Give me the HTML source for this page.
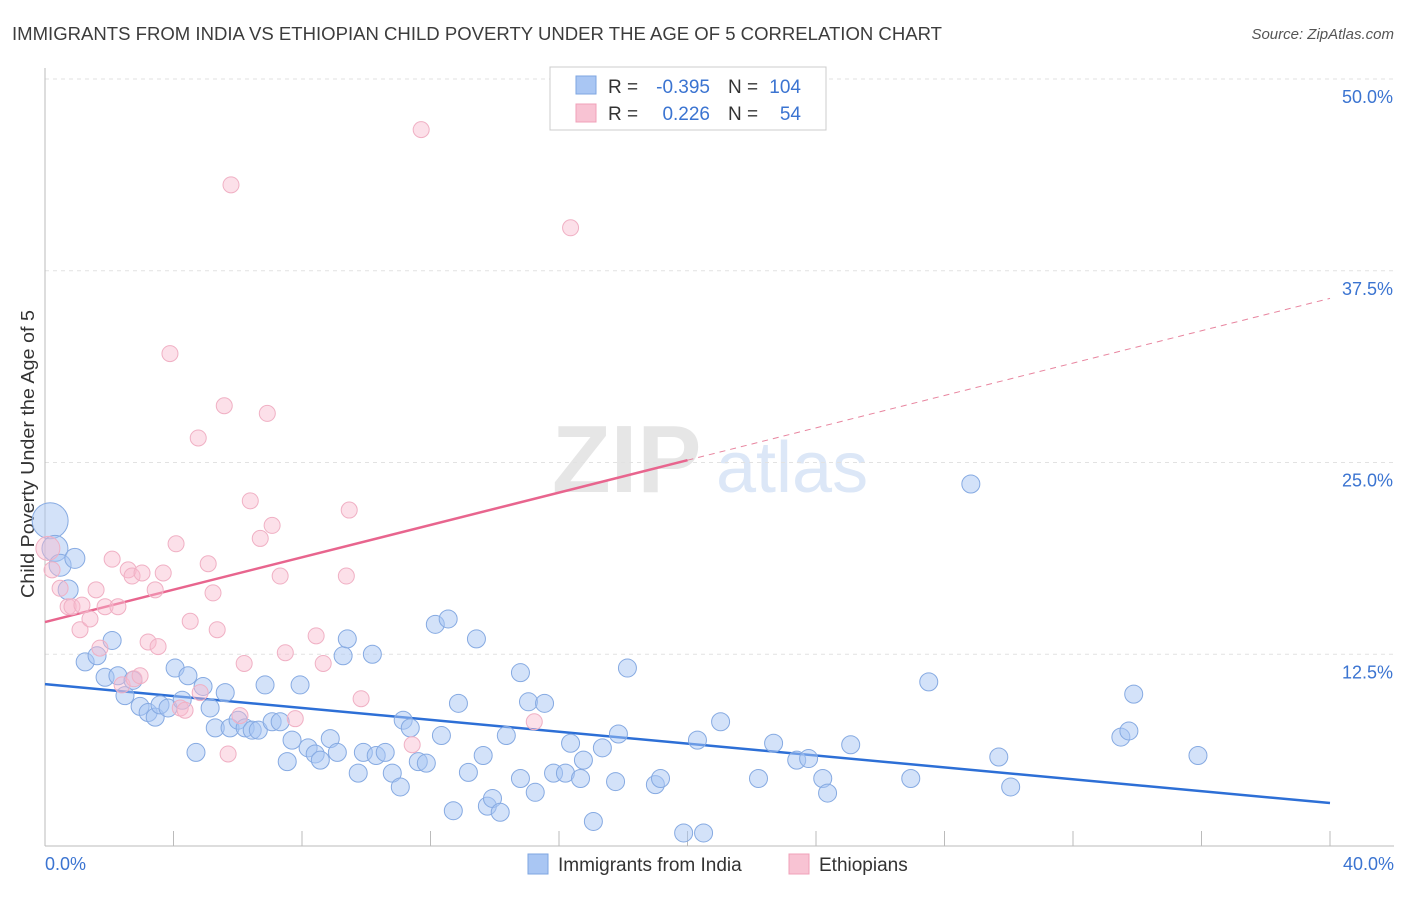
<!DOCTYPE html>
<html><head><meta charset="utf-8"><style>
body{margin:0;background:#fff;font-family:"Liberation Sans",sans-serif;}
svg text{font-family:"Liberation Sans",sans-serif;}
</style></head><body>
<svg id="chart" width="1406" height="892">
<text x="12" y="40" font-size="18" fill="#3c3c3c" textLength="930" lengthAdjust="spacingAndGlyphs">IMMIGRANTS FROM INDIA VS ETHIOPIAN CHILD POVERTY UNDER THE AGE OF 5 CORRELATION CHART</text>
<text x="1394" y="39" font-size="15" fill="#555" font-style="italic" text-anchor="end">Source: ZipAtlas.com</text>
<text x="34" y="598" font-size="18" fill="#333" textLength="288" lengthAdjust="spacingAndGlyphs" transform="rotate(-90 34 598)">Child Poverty Under the Age of 5</text>
<g>
<text x="552" y="492" font-size="96" fill="#e6e6e6" font-family="Liberation Serif" font-weight="bold">ZIP</text>
<text x="716" y="492" font-size="72" fill="#dce7f7">atlas</text>
</g>
<g id="grid"></g>
<g id="axes"></g>
<g id="trends"></g>
<g id="pts"></g>
<g>
<rect x="550" y="67" width="276" height="63" fill="#fff" stroke="#ccc"/>
<rect x="576" y="76" width="20" height="18" fill="#a9c6f3" stroke="#7ea6e0"/>
<rect x="576" y="104" width="20" height="18" fill="#f8c3d3" stroke="#f0a0b8"/>
<text x="608" y="93" font-size="19" fill="#333">R =</text>
<text x="710" y="93" font-size="19" fill="#3b74d1" text-anchor="end">-0.395</text>
<text x="728" y="93" font-size="19" fill="#333">N =</text>
<text x="801" y="93" font-size="19" fill="#3b74d1" text-anchor="end">104</text>
<text x="608" y="120" font-size="19" fill="#333">R =</text>
<text x="710" y="120" font-size="19" fill="#3b74d1" text-anchor="end">0.226</text>
<text x="728" y="120" font-size="19" fill="#333">N =</text>
<text x="801" y="120" font-size="19" fill="#3b74d1" text-anchor="end">54</text>
</g>
<g>
<rect x="528" y="854" width="20" height="20" fill="#a9c6f3" stroke="#7ea6e0"/>
<text x="558" y="871" font-size="19" fill="#333">Immigrants from India</text>
<rect x="789" y="854" width="20" height="20" fill="#f8c3d3" stroke="#f0a0b8"/>
<text x="819" y="871" font-size="19" fill="#333">Ethiopians</text>
</g>
</svg>
<script>
const blueX=[0.16,0.31,0.47,0.93,0.72,1.25,1.62,1.87,2.09,2.27,2.49,2.74,2.96,3.21,3.43,3.58,3.83,4.05,4.27,4.45,4.70,4.92,5.14,5.30,5.61,5.76,6.01,6.23,6.45,6.64,6.85,7.07,7.32,7.54,7.69,7.94,8.19,8.41,8.57,8.88,9.10,9.28,9.41,9.75,9.91,10.19,10.31,10.59,10.81,11.06,11.15,11.37,11.62,11.87,12.15,12.34,12.55,12.71,12.87,13.18,13.43,13.64,13.77,13.93,14.17,14.36,14.80,14.80,15.05,15.26,15.55,15.83,16.20,16.36,16.67,16.76,17.07,17.35,17.76,17.85,18.13,19.00,19.16,19.88,20.31,20.50,21.03,22.21,22.68,23.40,23.77,24.21,24.36,25.08,26.95,27.51,28.82,29.69,30.06,33.49,33.74,33.89,35.89];
const blueY=[21.2,19.4,18.3,18.75,16.7,12.0,12.4,11.0,13.4,11.1,9.8,10.8,9.1,8.7,8.4,9.2,9.0,11.6,9.5,11.1,6.1,10.4,9.0,7.7,10.0,7.7,8.2,7.7,7.55,7.55,10.5,8.1,8.1,5.5,6.9,10.5,6.4,6.0,5.6,7.0,6.1,12.4,13.5,4.75,6.1,12.5,5.9,6.1,4.75,3.85,8.2,7.7,5.5,5.4,14.45,7.2,14.8,2.3,9.3,4.8,13.5,5.9,2.6,3.1,2.2,7.2,11.3,4.4,9.4,3.5,9.3,4.75,4.75,6.7,4.4,5.6,1.6,6.4,4.2,7.3,11.6,4.0,4.4,0.85,6.9,0.85,8.1,4.4,6.7,5.6,5.7,4.4,3.45,6.6,4.4,10.7,23.6,5.8,3.85,7.1,7.5,9.9,5.9];
const blueR=[18,13,11,10,10];
const pinkX=[0.09,0.22,0.47,0.72,0.84,1.09,1.15,1.40,1.59,1.71,1.87,2.09,2.27,2.40,2.59,2.71,2.77,2.96,3.02,3.21,3.43,3.52,3.68,3.89,4.08,4.21,4.36,4.52,4.77,4.83,5.08,5.23,5.36,5.58,5.70,5.79,6.07,6.20,6.39,6.70,6.92,7.07,7.32,7.48,7.79,8.44,8.66,9.38,9.47,9.84,11.43,11.71,15.23,16.36];
const pinkY=[19.4,18.0,16.8,15.6,15.6,14.1,15.7,14.8,16.7,12.9,15.6,18.7,15.6,10.5,18.0,17.6,10.9,11.1,17.8,13.3,16.7,13.0,17.8,32.1,19.7,9.0,8.85,14.65,26.6,10.0,18.4,16.5,14.1,28.7,6.0,43.1,8.5,11.9,22.5,20.05,28.2,20.9,17.6,12.6,8.3,13.7,11.9,17.6,21.9,9.6,6.6,46.7,8.1,40.3];
const pinkR=[12];
const yTicks=[12.5,25,37.5,50];
const xTicks=[0,4,8,12,16,20,24,28,32,36,40];
const blueTrend=[10.55,2.8];
const pinkTrend=[14.6,35.7];
const pinkSolidEnd=20;
const NS="http://www.w3.org/2000/svg";
const sx=v=>45+v*(1285/40);
const sy=v=>846-v*(767/50);
function mk(tag,attrs,parent){const e=document.createElementNS(NS,tag);for(const k in attrs)e.setAttribute(k,attrs[k]);parent.appendChild(e);return e;}
const grid=document.getElementById('grid'),axes=document.getElementById('axes'),trends=document.getElementById('trends'),pts=document.getElementById('pts');
yTicks.forEach(t=>{
 const l=mk('line',{x1:45,x2:1394,y1:sy(t),y2:sy(t),stroke:'#e2e2e2','stroke-dasharray':'4,4'},grid);
 
 
 const tx=mk('text',{x:1393,y:sy(t)+24,'font-size':18,fill:'#3b74d1','text-anchor':'end'},axes);
 tx.textContent=(t.toFixed(1))+'%';
 
 
});
mk('line',{x1:45,x2:45,y1:68,y2:846,stroke:'#bbb'},axes);
mk('line',{x1:45,x2:1394,y1:846,y2:846,stroke:'#bbb'},axes);
xTicks.forEach(t=>{
 const l=mk('line',{x1:sx(t),x2:sx(t),y1:831,y2:846,stroke:'#bbb'},axes);
 
 
});
[[0,'0.0%','start',45],[40,'40.0%','end',1394]].forEach(a=>{
 const tx=mk('text',{x:a[3],y:870,'font-size':18,fill:'#3b74d1','text-anchor':a[2]},axes);
 tx.textContent=a[1];
 
 
});
blueX.forEach((x,i)=>{
 const c=mk('circle',{cx:sx(x),cy:sy(blueY[i]),r:blueR[i]||9,fill:'rgba(168,198,244,0.5)',stroke:'#86aae2','stroke-width':1},pts);
 
 
});
pinkX.forEach((x,i)=>{
 const c=mk('circle',{cx:sx(x),cy:sy(pinkY[i]),r:pinkR[i]||8,fill:'rgba(248,186,206,0.45)',stroke:'#f0b0c4','stroke-width':1},pts);
 
 
});
const bt=mk('line',{x1:sx(0),y1:sy(blueTrend[0]),x2:sx(40),y2:sy(blueTrend[1]),stroke:'#2d6fd6','stroke-width':2.5},trends);


const pm=pinkTrend[0]+(pinkTrend[1]-pinkTrend[0])*pinkSolidEnd/40;
const pt=mk('line',{x1:sx(0),y1:sy(pinkTrend[0]),x2:sx(pinkSolidEnd),y2:sy(pm),stroke:'#e8658e','stroke-width':2.5},trends);


const pd=mk('line',{x1:sx(pinkSolidEnd),y1:sy(pm),x2:sx(40),y2:sy(pinkTrend[1]),stroke:'#e8859f','stroke-width':1,'stroke-dasharray':'6,5'},trends);


</script>
</body></html>
